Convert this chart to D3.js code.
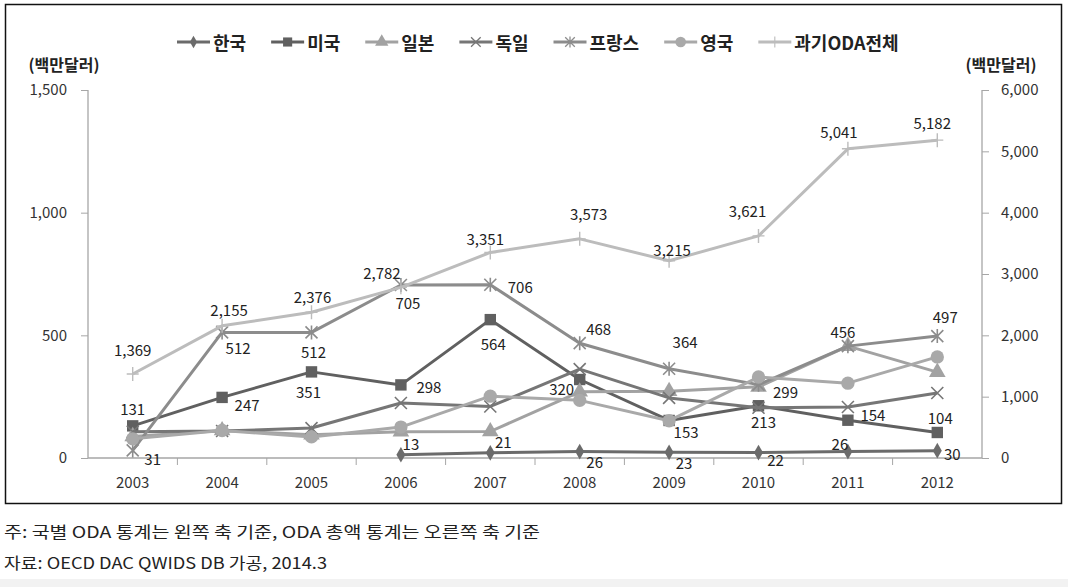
<!DOCTYPE html>
<html><head><meta charset="utf-8">
<script src="https://cdn.jsdelivr.net/npm/d3@7"></script>
<style>
html,body{margin:0;padding:0;background:#fff;}
svg{display:block;}
</style></head>
<body>
<svg id="chart" width="1068" height="587"></svg>
<script>
// ---- data ----
const years   = ['2003','2004','2005','2006','2007','2008','2009','2010','2011','2012'];
const korea   = [null, null, null, 13, 21, 26, 23, 22, 26, 30];
const usa     = [131, 247, 351, 298, 564, 320, 153, 213, 154, 104];
const japan   = [88, 112, 95, 107, 108, 270, 272, 290, 456, 350];
const germany = [107, 110, 122, 224, 210, 362, 245, 205, 208, 265];
const france  = [31, 512, 512, 705, 706, 468, 364, 299, 456, 497];
const uk      = [78, 112, 86, 126, 252, 235, 152, 330, 305, 412];
const total   = [1369, 2155, 2376, 2782, 3351, 3573, 3215, 3621, 5041, 5182];
const leftTicks  = [0, 500, 1000, 1500];
const rightTicks = [0, 1000, 2000, 3000, 4000, 5000, 6000];
const seriesNames = ['한국','미국','일본','독일','프랑스','영국','과기ODA전체'];
const unitLabel = '(백만달러)';
const note1 = '주: 국별 ODA 통계는 왼쪽 축 기준, ODA 총액 통계는 오른쪽 축 기준';
const note2 = '자료: OECD DAC QWIDS DB 가공, 2014.3';

// label offsets (layout only, separate from values)
const koreaLabelOff  = [null,null,null,[10,-11],[13,-11],[15,10],[15,10],[17,7],[-8,-8],[15,3]];
const usaLabelOff    = [[0,-17],[25,7],[-3,20],[28,2],[3,24],[-18,9],[17,11],[5,16],[25,-6],[3,-15]];
const franceLabelOff = [[20,8],[16,15],[2,19],[7,17],[30,2],[19,-15],[16,-27],[27,7],[-5,-15],[8,-20]];
const totalLabelOff  = [[0,-25],[7,-16],[1,-16],[-19,-15],[-5,-14],[9,-25],[3,-11],[-11,-25],[-9,-17],[-5,-18]];

// ---- layout ----
const svg = d3.select('#chart');
const plot = {left: 88, right: 982, top: 90, bottom: 458};
const x = d3.scaleBand().domain(years).range([plot.left, plot.right]).padding(0);
const xc = d => x(d) + x.bandwidth()/2;
const yL = d3.scaleLinear().domain([0,1500]).range([plot.bottom, plot.top]);
const yR = d3.scaleLinear().domain([0,6000]).range([plot.bottom, plot.top]);
const fmt = d3.format(',');
const axisCol = '#a6a6a6';
const textCol = '#333';
const FONT = "'Noto Sans CJK KR','Noto Sans',sans-serif";

// background pieces
svg.append('rect').attr('x',0).attr('y',579).attr('width',1068).attr('height',8).attr('fill','#f2f2f2');
svg.append('rect').attr('x',5.5).attr('y',4.5).attr('width',1056).attr('height',499)
  .attr('fill','none').attr('stroke','#111').attr('stroke-width',1.5);

// axes
const gL = svg.append('g').attr('transform',`translate(${plot.left},0)`)
  .call(d3.axisLeft(yL).tickValues(leftTicks).tickFormat(fmt).tickSize(7).tickPadding(14));
const gR = svg.append('g').attr('transform',`translate(${plot.right},0)`)
  .call(d3.axisRight(yR).tickValues(rightTicks).tickFormat(fmt).tickSize(7).tickPadding(12));
const gX = svg.append('g').attr('transform',`translate(0,${plot.bottom})`)
  .call(d3.axisBottom(x).tickSize(0).tickPadding(19));
// category separator ticks on x axis
gX.selectAll('line.sep').data(years.slice(1)).enter().append('line').attr('class','sep')
  .attr('x1',d=>x(d)).attr('x2',d=>x(d)).attr('y1',0).attr('y2',7)
  .attr('stroke',axisCol).attr('stroke-width',1);
[gL,gR,gX].forEach(g=>{
  g.select('.domain').attr('stroke',axisCol).attr('stroke-width',1.3);
  g.selectAll('.tick line').attr('stroke',axisCol);
  g.selectAll('text').attr('font-family',FONT).attr('font-size',15).attr('fill',textCol);
});
gX.select('.domain').attr('d',`M${plot.left},0H${plot.right}`);
gL.select('.domain').attr('d',`M0,${plot.top}V${plot.bottom}`);
gR.select('.domain').attr('d',`M0,${plot.top}V${plot.bottom}`);

// unit labels
svg.append('text').attr('x',64).attr('y',71).attr('text-anchor','middle')
  .attr('font-family',FONT).attr('font-weight','bold').attr('font-size',16).attr('fill','#222').text(unitLabel);
svg.append('text').attr('x',1001).attr('y',71).attr('text-anchor','middle')
  .attr('font-family',FONT).attr('font-weight','bold').attr('font-size',16).attr('fill','#222').text(unitLabel);

// marker painters
function marker(g, type, color){
  const s = 6;
  if(type==='diamond') g.append('path').attr('d',d3.symbol(d3.symbolDiamond,70)()).attr('fill',color);
  else if(type==='square') g.append('path').attr('d',d3.symbol(d3.symbolSquare,130)()).attr('fill',color);
  else if(type==='triangle') g.append('path').attr('d',d3.symbol(d3.symbolTriangle,120)()).attr('fill',color);
  else if(type==='circle') g.append('path').attr('d',d3.symbol(d3.symbolCircle,140)()).attr('fill',color);
  else if(type==='x') g.append('path').attr('d',`M${-s},${-s}L${s},${s}M${-s},${s}L${s},${-s}`)
      .attr('stroke',color).attr('stroke-width',1.6).attr('fill','none');
  else if(type==='star') g.append('path').attr('d',`M${-s},${-s}L${s},${s}M${-s},${s}L${s},${-s}M0,${-s-1}L0,${s+1}`)
      .attr('stroke',color).attr('stroke-width',1.6).attr('fill','none');
  else if(type==='plus') g.append('path').attr('d',`M${-s},0L${s},0M0,${-s-1}L0,${s+1}`)
      .attr('stroke',color).attr('stroke-width',1.4).attr('fill','none');
}

const series = [
  {name:seriesNames[0], vals:korea,   color:'#6b6b6b', m:'diamond',  y:yL, off:koreaLabelOff},
  {name:seriesNames[1], vals:usa,     color:'#606060', m:'square',   y:yL, off:usaLabelOff},
  {name:seriesNames[2], vals:japan,   color:'#a2a2a2', m:'triangle', y:yL, off:null},
  {name:seriesNames[3], vals:germany, color:'#767676', m:'x',        y:yL, off:null},
  {name:seriesNames[4], vals:france,  color:'#8c8c8c', m:'star',     y:yL, off:franceLabelOff},
  {name:seriesNames[5], vals:uk,      color:'#a9a9a9', m:'circle',   y:yL, off:null},
  {name:seriesNames[6], vals:total,   color:'#bcbcbc', m:'plus',     y:yR, off:totalLabelOff}
];

const plotG = svg.append('g');
series.forEach(s=>{
  const pts = years.map((yr,i)=>({yr, v:s.vals[i], i})).filter(p=>p.v!==null);
  const line = d3.line().x(p=>xc(p.yr)).y(p=>s.y(p.v));
  plotG.append('path').attr('d',line(pts)).attr('fill','none')
    .attr('stroke',s.color).attr('stroke-width',3).attr('stroke-linejoin','round');
  pts.forEach(p=>{
    const g = plotG.append('g').attr('transform',`translate(${xc(p.yr)},${s.y(p.v)})`);
    marker(g, s.m, s.color);
  });
});
// data labels on top
series.forEach(s=>{
  if(!s.off) return;
  years.forEach((yr,i)=>{
    const v = s.vals[i]; const o = s.off[i];
    if(v===null || !o) return;
    svg.append('text').attr('x',xc(yr)+o[0]).attr('y',s.y(v)+o[1])
      .attr('text-anchor','middle').attr('dominant-baseline','central')
      .attr('font-family',FONT).attr('font-size',15).attr('fill','#222').text(fmt(v));
  });
});

// legend
const leg = svg.append('g');
let lx = 177; const ly = 42;
series.forEach(s=>{
  const g = leg.append('g');
  g.append('line').attr('x1',lx).attr('x2',lx+33).attr('y1',ly).attr('y2',ly)
    .attr('stroke',s.color).attr('stroke-width',3);
  const mg = g.append('g').attr('transform',`translate(${lx+16.5},${ly}) scale(0.8)`);
  marker(mg, s.m, s.color);
  const t = g.append('text').attr('x',lx+36).attr('y',ly).attr('dominant-baseline','central')
    .attr('font-family',FONT).attr('font-weight','bold').attr('font-size',18).attr('fill','#222').text(s.name);
  lx += 36 + t.node().getComputedTextLength() + 25;
});

// footnotes
svg.append('text').attr('x',4).attr('y',531).attr('dominant-baseline','central')
  .attr('font-family',FONT).attr('font-size',16).attr('fill','#222')
  .attr('textLength',536).attr('lengthAdjust','spacingAndGlyphs').text(note1);
svg.append('text').attr('x',4).attr('y',562).attr('dominant-baseline','central')
  .attr('font-family',FONT).attr('font-size',16).attr('fill','#222')
  .attr('textLength',323).attr('lengthAdjust','spacingAndGlyphs').text(note2);
</script>
</body></html>
